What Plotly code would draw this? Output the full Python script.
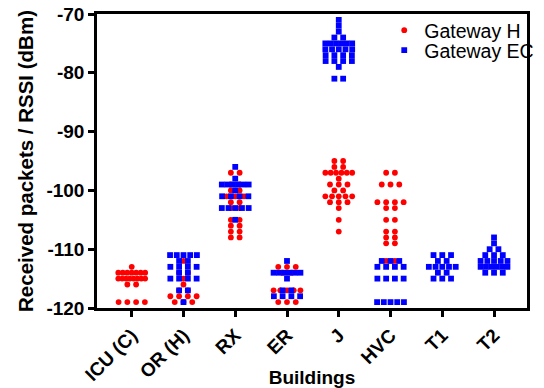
import plotly.graph_objects as go
from collections import Counter

# ---------------- data ----------------
categories = ["ICU (C)", "OR (H)", "RX", "ER", "J", "HVC", "T1", "T2"]

gw_h_icu = [-113, -114, -114, -114, -114, -114, -114, -114,
            -115, -115, -115, -115, -115, -115, -115, -115,
            -116, -116, -119, -119, -119, -119]
gw_h_or = [-112, -114, -114, -115, -116, -117, -117,
           -118, -118, -118, -118, -119, -119, -119]
gw_h_rx = [-97, -97, -99, -99, -100, -100, -101, -101, -101, -102, -102,
           -103, -103, -105, -105, -106, -106, -107, -107, -108, -108]
gw_h_er = [-113, -113, -113, -114, -114, -117, -117, -117, -117, -117,
           -119, -119, -119]
gw_h_j = [-95, -95, -96, -96, -97, -97, -97, -97, -97, -97, -98,
          -99, -99, -99, -100, -100, -101, -101, -101, -101, -101,
          -102, -102, -102, -103, -105, -107]
gw_h_hvc = [-97, -97, -99, -99, -99, -102, -102, -102, -102, -103, -103,
            -105, -105, -107, -107, -108, -108, -109, -109, -112, -112]
gw_h_t1 = []
gw_h_t2 = []

gw_ec_icu = []
gw_ec_or = [-111, -111, -111, -111, -111, -112, -112,
            -113, -113, -113, -113, -114, -114,
            -115, -115, -115, -115, -117, -117, -119]
gw_ec_rx = [-96, -98, -99, -99, -99, -99, -99, -99, -100,
            -101, -101, -101, -101, -103, -103, -103, -103, -103, -105]
gw_ec_er = [-112, -114, -114, -114, -114, -114, -114, -115,
            -117, -117, -118, -118, -118, -118]
gw_ec_j = [-71, -72, -73, -74, -74, -75, -75, -75, -75, -75, -75,
           -76, -76, -76, -76, -76, -77, -77, -77, -77,
           -78, -78, -78, -78, -79, -81, -81]
gw_ec_hvc = [-112, -112, -112, -113, -113, -113, -113,
             -115, -115, -115, -115, -119, -119, -119, -119, -119]
gw_ec_t1 = [-111, -111, -111, -112, -112, -113, -113, -113, -113, -113,
            -114, -114, -115, -115, -115]
gw_ec_t2 = [-108, -109, -110, -110, -111, -111, -111,
            -112, -112, -112, -112, -112, -113, -113, -113, -113, -113, -113,
            -114, -114, -114]

gateway_h = [gw_h_icu, gw_h_or, gw_h_rx, gw_h_er, gw_h_j, gw_h_hvc, gw_h_t1, gw_h_t2]
gateway_ec = [gw_ec_icu, gw_ec_or, gw_ec_rx, gw_ec_er, gw_ec_j, gw_ec_hvc, gw_ec_t1, gw_ec_t2]

y_ticks = [-120, -110, -100, -90, -80, -70]

# ---------------- layout geometry ----------------
W, H = 544, 388
ML, MR, MT, MB = 97, 5, 14, 80
X_RANGE = [-0.671, 7.637]
px_per_unit = (W - ML - MR) / (X_RANGE[1] - X_RANGE[0])
GAP_PX = 9.0       # horizontal gap between points sharing a value
MAXW_PX = 27.6     # maximal spread of one row


def spread(groups):
    xs, ys = [], []
    for i, vals in enumerate(groups):
        counts = Counter(vals)
        for v, n in counts.items():
            step = GAP_PX if n == 1 else min(GAP_PX, MAXW_PX / (n - 1))
            for k in range(n):
                off = (k - (n - 1) / 2) * step
                xs.append(i + off / px_per_unit)
                ys.append(v)
    return xs, ys


hx, hy = spread(gateway_h)
ex, ey = spread(gateway_ec)

fig = go.Figure()
fig.add_trace(go.Scatter(x=hx, y=hy, mode="markers", name="Gateway H", legend="legend",
                         marker=dict(color="#FF0000", size=5.8, symbol="circle",
                                     line=dict(width=0))))
fig.add_trace(go.Scatter(x=ex, y=ey, mode="markers", name="Gateway EC", legend="legend2",
                         marker=dict(color="#0000FF", size=5.8, symbol="square",
                                     line=dict(width=0))))

FONT = "Liberation Sans, Arial, sans-serif"
leg_common = dict(xanchor="left", yanchor="top", font=dict(size=19.5, family=FONT),
                  bgcolor="rgba(0,0,0,0)", borderwidth=0, itemwidth=30)
fig.update_layout(
    width=W, height=H,
    margin=dict(l=ML, r=MR, t=MT, b=MB),
    paper_bgcolor="white", plot_bgcolor="white",
    font=dict(family=FONT, color="black"),
    showlegend=True,
    legend=dict(x=0.668, y=1.0102, **leg_common),
    legend2=dict(x=0.668, y=0.9422, **leg_common),
    xaxis=dict(range=X_RANGE, tickmode="array", tickvals=list(range(len(categories))),
               ticktext=categories, tickangle=-45, automargin=False,
               tickfont=dict(size=19, family=FONT, weight="bold"),
               showline=True, linecolor="black", linewidth=2.5, mirror=True,
               ticks="outside", ticklen=6, tickwidth=2.5, tickcolor="black",
               showgrid=False, zeroline=False,
               title=dict(text="Buildings", font=dict(size=19, family=FONT, weight="bold"),
                          standoff=0)),
    yaxis=dict(range=[-120, -70], tickmode="array", tickvals=y_ticks,
               ticktext=[str(t) for t in y_ticks], automargin=False,
               tickfont=dict(size=19, family=FONT, weight="bold"),
               showline=True, linecolor="black", linewidth=2.5, mirror=True,
               ticks="outside", ticklen=6, tickwidth=2.5, tickcolor="black",
               showgrid=False, zeroline=False,
               title=dict(text="Received packets / RSSI (dBm)",
                          font=dict(size=20.5, family=FONT, weight="bold"),
                          standoff=8)),
)

fig.write_html("out.html", config={"displayModeBar": False},
               post_script="document.body.style.margin='0px';document.body.style.overflow='hidden';")
